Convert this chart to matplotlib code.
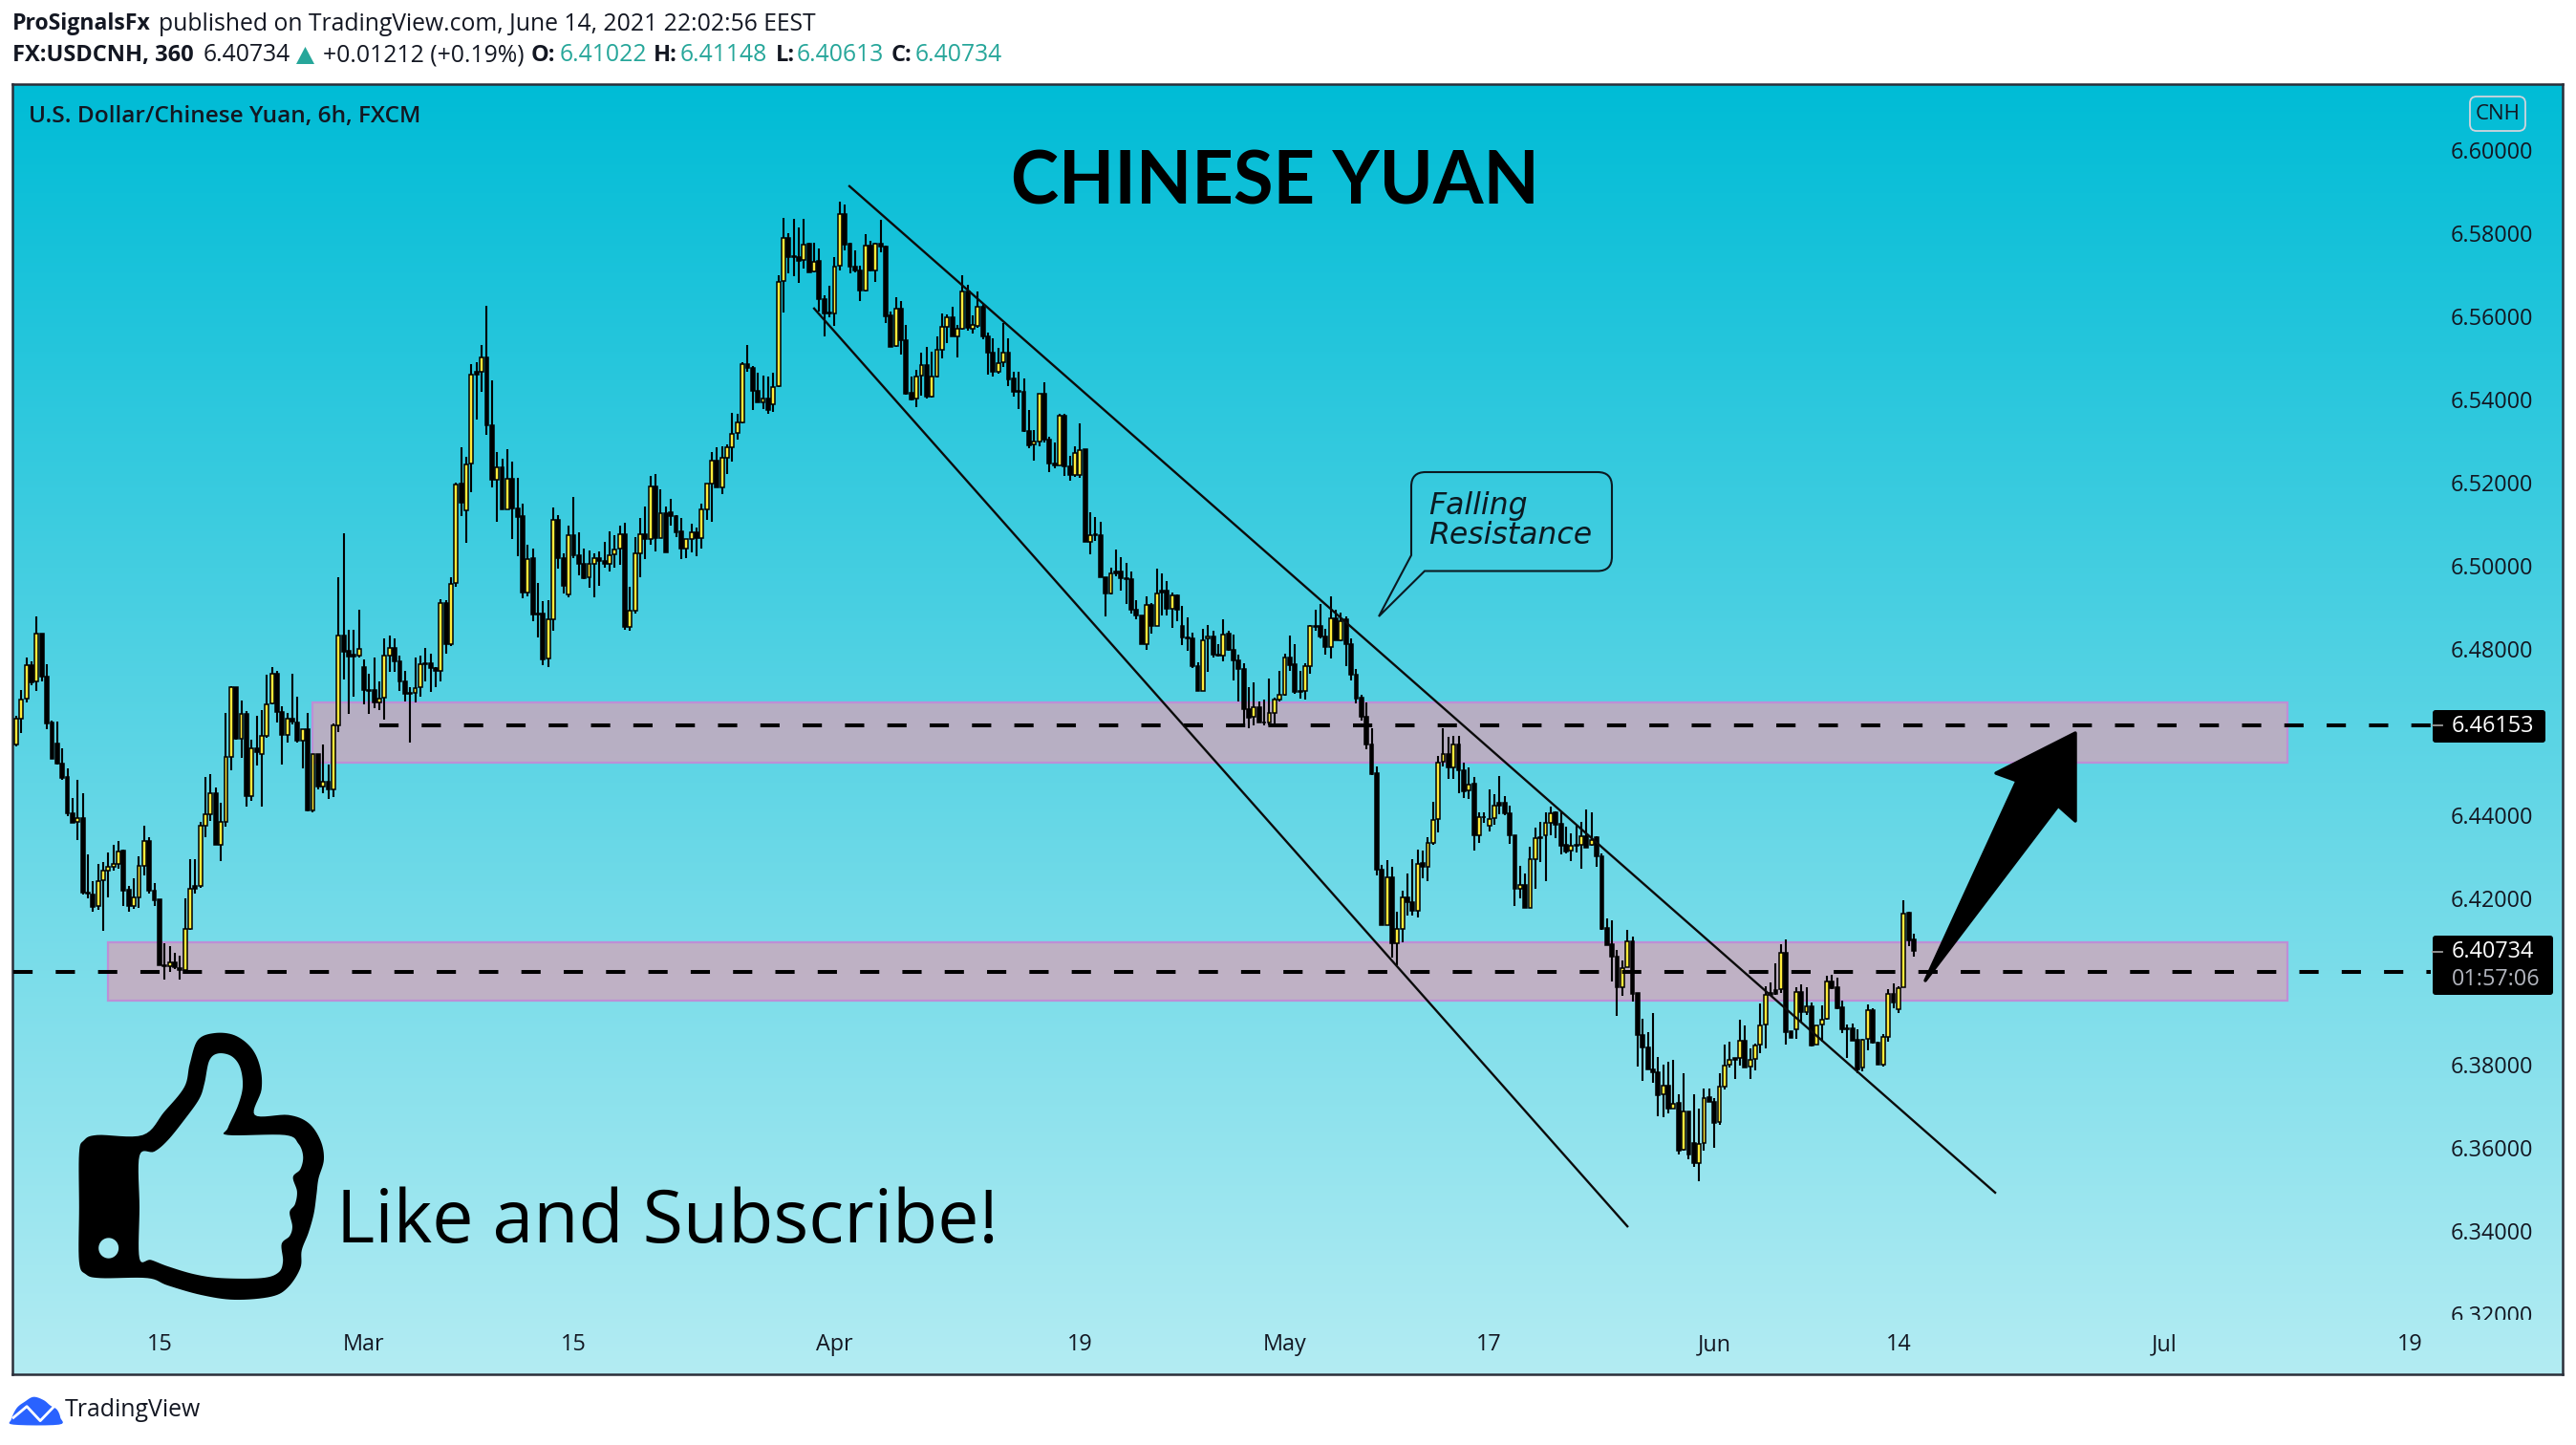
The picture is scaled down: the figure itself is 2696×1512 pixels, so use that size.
import numpy as np
import matplotlib
matplotlib.use("Agg")
import matplotlib.pyplot as plt
from matplotlib.path import Path
from matplotlib.patches import PathPatch, FancyBboxPatch, Rectangle, Polygon
from matplotlib.transforms import Bbox

W, H, DPI = 2696, 1512, 100
UI = "Open Sans"

# prices are written in units of 0.0001
PRICE_UNIT = 1e-4
opens = [64571,64632,64680,64760,64721,64837,64734,64622,64573,64525,
64491,64405,64384,64393,64215,64210,64181,64243,64267,64276,
64284,64315,64220,64182,64203,64279,64338,64219,64197,64040,
64037,64046,64033,64029,64127,64230,64230,64376,64403,64454,
64330,64385,64541,64709,64585,64644,64445,64561,64546,64590,
64668,64741,64649,64594,64632,64624,64580,64607,64412,64548,
64470,64481,64462,64615,64833,64795,64786,64784,64757,64701,
64701,64671,64682,64784,64803,64770,64722,64695,64695,64707,
64765,64765,64753,64746,64911,64812,64958,65197,65134,65245,
65467,65467,65501,65338,65207,65237,65136,65209,65138,65118,
64936,65017,64885,64885,64776,64872,65109,65019,64931,65073,
65025,65005,64971,65005,65017,65010,65005,65027,65040,65076,
64853,64892,65030,65076,65065,65190,65067,65126,65128,65118,
65082,65042,65065,65079,65066,65136,65197,65253,65189,65259,
65285,65318,65344,65485,65475,65421,65393,65402,65387,65431,
65684,65787,65743,65741,65735,65773,65706,65733,65640,65609,
65607,65720,65844,65773,65718,65710,65661,65770,65709,65774,
65766,65601,65528,65618,65542,65416,65401,65456,65483,65406,
65454,65519,65574,65597,65552,65569,65659,65569,65577,65623,
65552,65513,65466,65488,65513,65450,65419,65417,65324,65291,
65299,65412,65303,65245,65241,65361,65239,65217,65218,65280,
65057,65076,65074,64973,64933,64985,64987,64969,64967,64893,
64881,64812,64906,64855,64941,64939,64897,64929,64856,64828,
64824,64758,64699,64824,64830,64786,64784,64837,64798,64772,
64752,64655,64636,64660,64624,64622,64646,64678,64690,64779,
64762,64699,64699,64758,64856,64854,64830,64804,64873,64821,
64870,64811,64738,64682,64637,64571,64502,64270,64136,64251,
64092,64127,64202,64190,64171,64285,64275,64334,64390,64529,
64546,64514,64571,64508,64459,64475,64353,64396,64374,64393,
64429,64429,64405,64353,64224,64232,64177,64295,64348,64351,
64382,64406,64379,64328,64315,64326,64330,64349,64328,64347,
64302,64128,64089,64060,63987,64035,64096,63972,63871,63842,
63790,63783,63729,63751,63696,63708,63597,63689,63613,63564,
63612,63723,63710,63662,63748,63800,63817,63817,63859,63796,
63815,63848,63896,63973,63980,63982,64070,63880,63885,63976,
63926,63941,63848,63897,63911,64001,63986,63938,63888,63888,
63861,63793,63862,63932,63854,63800,63867,63970,63934,63986,64165,64102]
highs = [64640,64701,64780,64770,64877,64837,64764,64627,64625,64560,
64512,64441,64485,64452,64307,64241,64284,64287,64310,64330,
64338,64318,64230,64249,64301,64374,64347,64236,64197,64092,
64085,64069,64062,64200,64295,64294,64385,64491,64498,64466,
64431,64645,64711,64709,64675,64650,64581,64640,64653,64737,
64757,64746,64661,64645,64739,64684,64607,64645,64548,64548,
64569,64521,64621,64972,65078,64845,64845,64893,64774,64739,
64778,64721,64824,64833,64826,64783,64747,64707,64780,64783,
64803,64789,64757,64920,64918,64972,65199,65285,65262,65484,
65488,65530,65624,65446,65272,65256,65279,65249,65210,65148,
65050,65040,64959,64915,64918,65139,65122,65030,65096,65164,
65079,65042,65037,65030,65033,65056,65083,65073,65096,65102,
64948,65068,65114,65143,65215,65220,65183,65143,65160,65122,
65114,65065,65100,65091,65149,65197,65272,65285,65287,65291,
65367,65364,65490,65530,65479,65463,65456,65454,65463,65697,
65835,65799,65833,65812,65833,65776,65777,65762,65649,65672,
65742,65874,65869,65777,65758,65721,65796,65781,65777,65831,
65770,65610,65644,65635,65578,65454,65471,65513,65525,65515,
65552,65607,65604,65621,65578,65699,65674,65601,65658,65628,
65559,65546,65523,65582,65546,65465,65466,65451,65373,65326,
65414,65440,65310,65295,65364,65364,65263,65286,65343,65281,
65128,65116,65106,64973,64996,65038,65021,65006,64987,64918,
64881,64927,64909,64992,64982,64964,64935,64930,64904,64875,
64839,64768,64847,64857,64843,64812,64872,64843,64835,64785,
64766,64709,64720,64674,64678,64729,64682,64747,64788,64831,
64811,64747,64766,64857,64893,64908,64847,64927,64895,64887,
64877,64824,64751,64690,64671,64609,64517,64280,64293,64275,
64167,64219,64259,64295,64318,64315,64348,64433,64543,64609,
64588,64590,64590,64527,64515,64491,64406,64408,64462,64450,
64495,64445,64423,64353,64278,64261,64325,64371,64385,64406,
64420,64410,64406,64372,64357,64376,64385,64414,64408,64349,
64308,64152,64148,64076,64050,64125,64109,63972,63911,63879,
63924,63819,63800,63807,63811,63729,63779,63689,63729,63696,
63744,63744,63721,63779,63850,63856,63817,63908,63894,63839,
63852,63947,63990,63999,64043,64089,64101,63880,63986,63993,
63986,63951,63895,63944,64014,64016,64009,63955,63898,63900,
63886,63863,63945,63936,63856,63875,63982,63995,63990,64195,64168,64115]
lows = [64566,64598,64671,64713,64699,64722,64607,64535,64521,64485,
64397,64382,64341,64209,64201,64168,64172,64122,64202,64267,
64272,64181,64168,64175,64177,64255,64212,64181,64039,64004,
64023,64030,64004,64027,64125,64211,64226,64347,64387,64330,
64290,64372,64508,64581,64538,64420,64435,64520,64420,64587,
64667,64623,64521,64575,64619,64575,64512,64410,64406,64462,
64452,64439,64443,64600,64726,64644,64684,64780,64667,64644,
64658,64652,64630,64745,64745,64698,64673,64575,64671,64685,
64722,64696,64708,64722,64788,64806,64948,65118,65055,65176,
65351,65417,65314,65187,65105,65135,65135,65065,65023,64921,
64927,64866,64827,64760,64756,64843,64992,64933,64923,65019,
64977,64967,64946,64923,64951,64996,64986,64994,65002,64845,
64843,64885,64971,65015,65051,65033,65066,65032,65096,65069,
65015,65017,65032,65022,65042,65111,65105,65187,65172,65220,
65250,65302,65341,65465,65374,65393,65376,65365,65370,65429,
65609,65702,65695,65679,65715,65705,65705,65610,65551,65597,
65577,65709,65758,65703,65705,65636,65659,65707,65682,65753,
65584,65526,65526,65508,65411,65398,65381,65408,65402,65404,
65452,65498,65536,65551,65500,65567,65565,65558,65572,65545,
65460,65454,65461,65477,65431,65406,65377,65322,65282,65253,
65287,65296,65224,65234,65240,65215,65204,65214,65211,65056,
65027,65059,64972,64877,64930,64975,64939,64908,64885,64870,
64811,64797,64837,64854,64881,64880,64851,64867,64808,64795,
64755,64699,64699,64745,64778,64781,64770,64795,64724,64674,
64621,64609,64617,64623,64617,64617,64617,64674,64688,64747,
64693,64680,64678,64739,64844,64824,64785,64776,64821,64818,
64758,64724,64670,64627,64558,64497,64255,64135,64135,64058,
64039,64094,64158,64159,64154,64249,64242,64330,64359,64518,
64487,64487,64452,64442,64439,64315,64334,64382,64360,64377,
64403,64400,64331,64182,64200,64177,64177,64223,64288,64242,
64353,64344,64305,64308,64290,64311,64272,64321,64326,64275,
64125,64088,64000,63918,63966,64035,63952,63796,63762,63788,
63757,63677,63675,63683,63695,63585,63595,63574,63555,63521,
63595,63710,63601,63656,63741,63794,63766,63798,63794,63766,
63787,63829,63840,63967,63969,63974,63849,63865,63863,63901,
63921,63844,63848,63856,63909,63982,63934,63877,63817,63859,
63779,63785,63836,63852,63800,63797,63856,63936,63924,63986,64085,64061]
closes = [64632,64678,64760,64719,64837,64734,64621,64535,64525,64489,
64405,64382,64393,64213,64211,64180,64241,64267,64276,64284,
64313,64219,64181,64203,64279,64338,64219,64196,64039,64037,
64046,64035,64027,64127,64223,64223,64374,64403,64454,64330,
64384,64541,64709,64584,64644,64445,64561,64551,64590,64667,
64741,64649,64594,64632,64625,64580,64607,64412,64548,64469,
64481,64462,64615,64833,64793,64782,64782,64799,64700,64699,
64671,64681,64784,64803,64770,64722,64693,64693,64705,64764,
64763,64753,64746,64911,64812,64956,65195,65151,65243,65459,
65459,65500,65338,65207,65237,65135,65209,65138,65117,64935,
65015,64883,64883,64775,64871,65109,65019,64951,65073,65025,
65005,64970,65004,65017,65010,65005,65025,65038,65076,64853,
64892,65030,65076,65065,65190,65066,65126,65032,65118,65080,
65042,65063,65079,65066,65135,65197,65253,65187,65259,65285,
65316,65344,65485,65475,65421,65393,65402,65374,65429,65682,
65787,65741,65741,65733,65771,65705,65731,65640,65607,65607,
65719,65844,65772,65718,65710,65661,65770,65709,65774,65766,
65600,65526,65618,65542,65414,65399,65454,65483,65406,65454,
65519,65574,65597,65552,65569,65659,65571,65578,65623,65551,
65512,65465,65486,65512,65448,65417,65417,65323,65290,65299,
65412,65303,65245,65240,65361,65239,65217,65270,65277,65057,
65074,65074,64972,64933,64981,64981,64969,64967,64893,64881,
64812,64906,64855,64933,64935,64897,64929,64893,64828,64824,
64758,64699,64820,64829,64785,64784,64835,64797,64772,64752,
64655,64634,64659,64623,64622,64645,64678,64690,64779,64760,
64697,64696,64758,64856,64853,64829,64804,64873,64821,64867,
64811,64737,64680,64636,64571,64498,64269,64135,64251,64092,
64127,64202,64190,64171,64284,64275,64334,64389,64527,64546,
64514,64571,64508,64458,64473,64351,64395,64395,64391,64423,
64423,64405,64351,64224,64232,64177,64295,64345,64345,64382,
64405,64378,64326,64313,64326,64328,64349,64321,64341,64301,
64126,64088,64060,63987,64033,64096,63971,63871,63842,63790,
63783,63728,63751,63696,63706,63595,63687,63585,63564,63610,
63721,63710,63660,63748,63798,63812,63813,63859,63794,63813,
63847,63895,63969,63969,63970,64070,63879,63865,63976,63926,
63940,63846,63895,63909,64001,63984,63936,63886,63886,63859,
63790,63861,63932,63854,63800,63867,63970,63951,63984,64163,64099,64073]

y_ticks = [6.60,6.58,6.56,6.54,6.52,6.50,6.48,6.44,6.42,6.38,6.36,6.34,6.32]
x_tick_bars = [28,68,109,160,208,248,288,332,368,420,468]
x_tick_labels = ["15","Mar","15","Apr","19","May","17","Jun","14","Jul","19"]

level_prices = [6.46153, 6.4024]
level_start_bars = [71, -0.6]
band_tops = [6.4671, 6.4095]
band_bottoms = [6.4527, 6.3955]
band_start_bars = [57.9, 17.9]
band_end_bar = 444.0
upper_trend_bars, upper_trend_prices = [162.9, 386.9], [6.5912, 6.3493]
lower_trend_bars, lower_trend_prices = [156.0, 315.0], [6.5618, 6.3412]

o = np.array(opens) * PRICE_UNIT
h = np.array(highs) * PRICE_UNIT
l = np.array(lows) * PRICE_UNIT
c = np.array(closes) * PRICE_UNIT
idx = np.arange(len(o))

fig = plt.figure(figsize=(W / DPI, H / DPI), dpi=DPI, facecolor="white")
PL, PR, PT, PB = 13, 2682, 88, 1438
ax = fig.add_axes([PL / W, 1 - PB / H, (PR - PL) / W, (PB - PT) / H])
BAR0, BARSTEP = 17.0, 5.353
PY0, PYSCALE = 156.5, 4353.5
ax.set_xlim((PL - BAR0) / BARSTEP, (PR - BAR0) / BARSTEP)
ax.set_ylim(6.60 - (PB - PY0) / PYSCALE, 6.60 - (PT - PY0) / PYSCALE)

# background gradient
top_rgb, bot_rgb = np.array([0, 188, 214]) / 255, np.array([179, 236, 243]) / 255
grad = np.linspace(0, 1, 512)[:, None, None] * (bot_rgb - top_rgb)[None, None, :] + top_rgb[None, None, :]
ax.imshow(grad, extent=[*ax.get_xlim(), *ax.get_ylim()], origin="upper", aspect="auto", zorder=0)
ax.set_xlim((PL - BAR0) / BARSTEP, (PR - BAR0) / BARSTEP)
ax.set_ylim(6.60 - (PB - PY0) / PYSCALE, 6.60 - (PT - PY0) / PYSCALE)

# zones
for t, b, s in zip(band_tops, band_bottoms, band_start_bars):
    ax.add_patch(Rectangle((s, b), band_end_bar - s, t - b, facecolor=(212/255, 164/255, 186/255, 0.77),
                           edgecolor="#BD8FD6", linewidth=1.6, zorder=1))

# candles
ax.vlines(idx, l, h, colors="black", linewidth=1.5, zorder=2)
up = c >= o
body_b = np.minimum(o, c)
body_h = np.abs(c - o)
ax.bar(idx, body_h, bottom=body_b, width=0.72, color=np.where(up, "#FFEB3B", "#000000"),
       edgecolor="black", linewidth=1.1, zorder=3)

# levels
x_right = (2544 - BAR0) / BARSTEP
for p, s in zip(level_prices, level_start_bars):
    ax.plot([s, x_right], [p, p], color="black", linewidth=2.9, linestyle=(0, (5, 6)),
            dash_capstyle="butt", zorder=4)
# trend lines
ax.plot(upper_trend_bars, upper_trend_prices, color="#0b0b0b", linewidth=1.7, zorder=5)
ax.plot(lower_trend_bars, lower_trend_prices, color="#0b0b0b", linewidth=1.7, zorder=5)

# axes text
AXFS = 16.8
ax.set_yticks(y_ticks)
ax.set_yticklabels([f"{v:.5f}" for v in y_ticks])
ax.yaxis.tick_right()
ax.tick_params(axis="y", length=0, pad=-(PR - 2565) * 0.72, labelsize=AXFS, labelcolor="#131722")
for lab in ax.get_yticklabels():
    lab.set_family(UI)
    lab.set_zorder(6)
    lab.set_clip_on(True)
    lab.set_clip_box(Bbox([[0, H - 1381], [W, H]]))
ax.set_xticks(x_tick_bars)
ax.set_xticklabels(x_tick_labels)
ax.tick_params(axis="x", length=0, pad=-(PB - 1395) * 0.72, labelsize=AXFS, labelcolor="#131722")
for lab in ax.get_xticklabels():
    lab.set_family(UI)
for sp in ax.spines.values():
    sp.set_color("#2A2E39")
    sp.set_linewidth(1.8)

# overlay in figure pixels for decorations
ov = fig.add_axes([0, 0, 1, 1], facecolor="none")
ov.set_xlim(0, W)
ov.set_ylim(H, 0)
ov.axis("off")


def smooth(pts, n=8):
    p = np.array(pts, float)
    out = []
    m = len(p)
    for i in range(m):
        p0, p1, p2, p3 = p[(i - 1) % m], p[i], p[(i + 1) % m], p[(i + 2) % m]
        for t in np.linspace(0, 1, n, endpoint=False):
            out.append(0.5 * ((2 * p1) + (-p0 + p2) * t + (2 * p0 - 5 * p1 + 4 * p2 - p3) * t ** 2
                              + (-p0 + 3 * p1 - 3 * p2 + p3) * t ** 3))
    return np.array(out)


def compound(rings):
    v, k = [], []
    for r in rings:
        r = list(map(tuple, r))
        v += r + [r[0]]
        k += [Path.MOVETO] + [Path.LINETO] * (len(r) - 1) + [Path.CLOSEPOLY]
    return Path(v, k)


def zoom4(pts):
    return [(x / 1.425, y / 3 + 1050) for x, y in pts]


# thumbs-up icon
thumb_outer = [(118,470),(125,430),(145,413),(213,413),(245,340),(275,262),(283,190),(295,115),(320,93),(350,100),
               (375,140),(388,200),(390,270),(380,350),(430,350),(460,375),(478,430),(483,490),(475,550),(472,600),
               (468,660),(460,720),(450,775),(448,830),(430,890),(405,920),(350,930),(300,915),(250,885),(220,862),
               (150,862),(128,850),(118,810),(118,640)]
thumb_inner = [(208,478),(230,465),(250,430),(275,365),(297,300),(305,250),(312,180),(325,157),(345,165),(358,200),
               (362,260),(355,320),(340,390),(340,413),(425,413),(445,440),(452,480),(448,520),(437,545),(443,590),
               (440,630),(432,655),(436,700),(432,730),(420,755),(422,810),(415,845),(390,862),(330,862),(290,850),
               (250,825),(225,805),(208,800),(208,640)]
t = np.linspace(0, 2 * np.pi, 40)
hole = np.c_[162 / 1.425 + 10.5 * np.sin(t), 768 / 3 + 1050 + 10.7 * np.cos(t)]
outer = smooth(zoom4(thumb_outer))
inner = smooth(zoom4(thumb_inner))[::-1]
ov.add_patch(PathPatch(compound([outer, inner, hole]), facecolor="black", edgecolor="none", zorder=10))

ov.text(352, 1300, "Like and Subscribe!", family=UI, fontsize=55.5, color="black", va="baseline", zorder=10)
ov.text(1334, 213, "CHINESE YUAN", family="Lato", fontweight="bold", fontsize=54.5,
        color="black", ha="center", va="baseline", zorder=10)

# callout
box_l, box_r, box_t, box_b, rad = 1477, 1687, 494, 597.5, 15
callout_v = [(box_l + rad, box_t), (box_r - rad, box_t), (box_r, box_t), (box_r, box_t + rad),
             (box_r, box_b - rad), (box_r, box_b), (box_r - rad, box_b),
             (1491, box_b), (1443, 645), (box_l, 581),
             (box_l, box_t + rad), (box_l, box_t), (box_l + rad, box_t), (box_l + rad, box_t)]
callout_c = [Path.MOVETO, Path.LINETO, Path.CURVE3, Path.CURVE3, Path.LINETO, Path.CURVE3, Path.CURVE3,
             Path.LINETO, Path.LINETO, Path.LINETO, Path.LINETO, Path.CURVE3, Path.CURVE3, Path.CLOSEPOLY]
ov.add_patch(PathPatch(Path(callout_v, callout_c), facecolor="none", edgecolor="#0b1a22", linewidth=1.5, zorder=10))
ov.text(1495, 538, "Falling", family="DejaVu Sans", style="italic", fontsize=22.7, color="#0b1a22", va="baseline", zorder=10)
ov.text(1495, 569, "Resistance", family="DejaVu Sans", style="italic", fontsize=22.7, color="#0b1a22", va="baseline", zorder=10)

# arrow
arrow = [(2172,767),(2172,859),(2154,843),(2015,1026),(2111,817),(2089,809)]
ov.add_patch(Polygon(arrow, closed=True, facecolor="black", edgecolor="black", linewidth=2.5, joinstyle="round", zorder=10))

# price labels
for (bx0, bx1, by0, by1) in [(2546, 2664, 743, 777), (2546, 2672, 979, 1041)]:
    ov.add_patch(FancyBboxPatch((bx0, by0), bx1 - bx0, by1 - by0, boxstyle="round,pad=0,rounding_size=3",
                                facecolor="black", edgecolor="none", zorder=11))
ov.plot([2546, 2556], [759, 759], color="#9b9b9b", lw=1.3, zorder=12)
ov.plot([2546, 2556], [996, 996], color="#9b9b9b", lw=1.3, zorder=12)
ov.text(2566, 760, "6.46153", family=UI, fontsize=AXFS, color="white", va="center", zorder=12, fontweight="medium")
ov.text(2566, 996, "6.40734", family=UI, fontsize=AXFS, color="white", va="center", zorder=12, fontweight="medium")
ov.text(2566, 1025, "01:57:06", family=UI, fontsize=AXFS, color="#B2B5BE", va="center", zorder=12)

# CNH badge
ov.add_patch(FancyBboxPatch((2585, 101), 58, 36, boxstyle="round,pad=0,rounding_size=7", facecolor="none",
                            edgecolor="#D1D4DC", linewidth=1.3, zorder=10))
ov.text(2614, 119.5, "CNH", family=UI, fontsize=16, color="#131722", ha="center", va="center", zorder=10)

# pane title
DARK = "#131722"
ov.text(30, 122, "U.S. Dollar/Chinese Yuan, 6h, FXCM", family=UI, fontweight="semibold", fontsize=17.6,
        color=DARK, va="center", zorder=10)

# header
HFS, HBF = 17.8, 17.0
ov.text(13, 25, "ProSignalsFx", family=UI, fontweight="bold", fontsize=16.6, color=DARK, va="center")
ov.text(166, 25, "published on TradingView.com, June 14, 2021 22:02:56 EEST", family=UI, fontsize=HFS, color=DARK, va="center")
TEAL = "#26A69A"
ov.text(13, 58, "FX:USDCNH, 360", family=UI, fontweight="bold", fontsize=HBF, color=DARK, va="center")
ov.text(213, 58, "6.40734", family=UI, fontsize=HFS, color=DARK, va="center")
ov.add_patch(Polygon([(310, 67), (329, 67), (319.5, 49)], closed=True, facecolor=TEAL, edgecolor="none"))
ov.text(338, 58, "+0.01212 (+0.19%)", family=UI, fontsize=HFS, color=DARK, va="center")
for key, kx, val, vx in [("O:", 556, "6.41022", 586), ("H:", 684, "6.41148", 712),
                         ("L:", 812, "6.40613", 834), ("C:", 933, "6.40734", 958)]:
    ov.text(kx, 58, key, family=UI, fontweight="bold", fontsize=HBF, color=DARK, va="center")
    ov.text(vx, 58, val, family=UI, fontsize=HFS, color=TEAL, va="center")

# footer logo
logo = smooth([(zx / 1.425, zy / 3 + 1050) for zx, zy in
               [(17,1305),(25,1270),(37,1250),(50,1235),(65,1245),(75,1262),(85,1275),(90,1300),(88,1322),(20,1322)]], 6)
ov.add_patch(Polygon(logo, closed=True, facecolor="#2962FF", edgecolor="none"))
ov.plot([z / 1.425 for z in (20, 40, 60, 82)], [z / 3 + 1050 for z in (1300, 1265, 1310, 1262)], color="white", lw=2)
ov.text(68, 1476, "TradingView", family=UI, fontsize=17.9, color=DARK, va="center")

fig.savefig("out.png", dpi=DPI, facecolor="white")
